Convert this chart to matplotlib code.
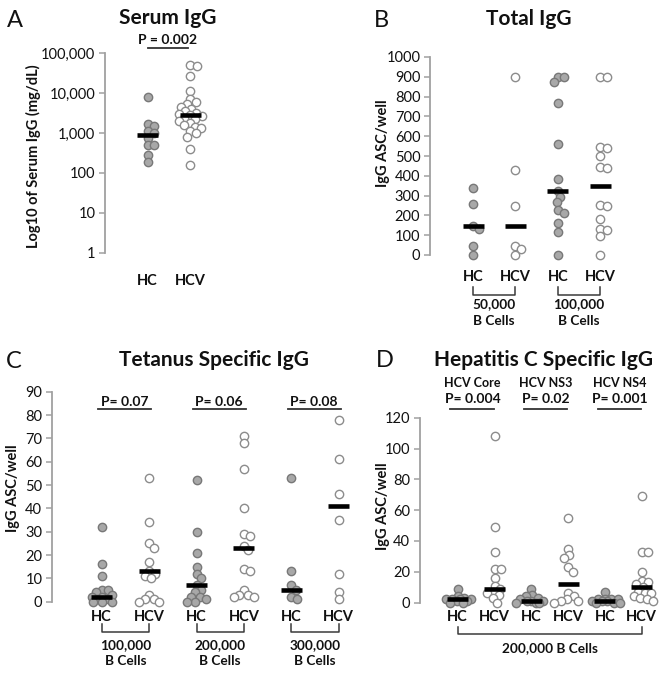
import numpy as np
import matplotlib
matplotlib.use("Agg")
import matplotlib.pyplot as plt
from matplotlib.transforms import Affine2D, blended_transform_factory

plt.rcParams['font.family'] = ['Lato', 'DejaVu Sans']

# ---- data ----
groups = ["HC", "HCV"]

serum_hc = [7800, 1700, 1500, 1100, 1000, 760, 500, 500, 280, 185]
serum_hcv = [50000, 48000, 26000, 11000, 7000, 5800, 5200, 4500, 4000, 3500,
             3200, 3000, 2800, 2600, 2400, 2200, 2000, 1800, 1600, 1450,
             1300, 1100, 1000, 800, 400, 155]
serum_med = [900, 2800]

tot_hc_50 = [340, 260, 145, 130, 47, 0]
tot_hcv_50 = [900, 428, 249, 47, 30, 0]
tot_hc_100 = [900, 900, 874, 768, 560, 382, 323, 294, 266, 227, 213, 160, 114, 0]
tot_hcv_100 = [900, 900, 543, 538, 500, 444, 439, 252, 249, 181, 131, 126, 97, 0]
tot_med = [146, 148, 323, 348]
tot_cells = ["50,000\nB Cells", "100,000\nB Cells"]

tet_hc_100 = [32, 16, 11, 5, 5, 4, 3, 2, 2, 1, 1, 0, 0, 0]
tet_hcv_100 = [53, 34, 25, 23, 17, 13, 12, 11, 10, 3, 1, 1, 0, 0]
tet_hc_200 = [52, 30, 21, 15, 12, 10, 7, 5, 4, 2, 2, 1, 0, 0]
tet_hcv_200 = [71, 68, 57, 40, 29, 28, 24, 22, 14, 13, 5, 3, 3, 2, 2]
tet_hc_300 = [53, 13, 7, 5, 2, 1]
tet_hcv_300 = [78, 61, 46, 35, 12, 4, 1]
tet_med = [2, 13, 7, 23, 5, 41]
tet_p = ["P= 0.07", "P= 0.06", "P= 0.08"]
tet_cells = ["100,000\nB Cells", "200,000\nB Cells", "300,000\nB Cells"]

hcv_hc_core = [9, 4, 3, 2, 2, 2, 2, 1, 1, 0, 0]
hcv_hcv_core = [108, 49, 33, 22, 22, 16, 11, 9, 7, 6, 5, 3, 0]
hcv_hc_ns3 = [9, 5, 4, 3, 2, 1, 1, 1, 0, 0, 0]
hcv_hcv_ns3 = [55, 35, 31, 29, 23, 20, 6, 4, 2, 1, 1, 0]
hcv_hc_ns4 = [7, 2, 2, 2, 2, 1, 1, 1, 0, 0, 0]
hcv_hcv_ns4 = [69, 33, 33, 20, 14, 13, 12, 10, 7, 6, 6, 4, 3, 2, 1]
hcv_med = [2.5, 9, 1, 12, 1, 10]
hcv_antigen = ["HCV Core", "HCV NS3", "HCV NS4"]
hcv_p = ["P= 0.004", "P= 0.02", "P= 0.001"]

# ---- style ----
HC_FACE, HC_EDGE = "#a8a8a8", "#787878"
HCV_FACE, HCV_EDGE = "#ffffff", "#8c8c8c"
AXIS_C = "#a0a0a0"
TXT = "#111111"

W, H = 663, 673
fig = plt.figure(figsize=(W / 100, H / 100), dpi=100)
# transform: x, y in pixels measured from the top-left corner
PX = Affine2D().scale(1.0 / W, -1.0 / H).translate(0, 1) + fig.transFigure


def ftext(x, y, s, **kw):
    kw.setdefault("color", TXT)
    fig.text(x, y, s, transform=PX, **kw)


def make_ax(box, first, step, ylim, log=False):
    left, right, top, bottom = box
    ax = fig.add_axes([left / W, 1 - bottom / H, (right - left) / W, (bottom - top) / H])
    ax.set_xlim((left - first) / step, (right - first) / step)
    if log:
        ax.set_yscale("log")
    ax.set_ylim(*ylim)
    for s in ["top", "right", "bottom"]:
        ax.spines[s].set_visible(False)
    ax.spines["left"].set_color(AXIS_C)
    ax.spines["left"].set_linewidth(1.3)
    ax.tick_params(axis="y", direction="out", length=4, width=1.1, color=AXIS_C,
                   labelsize=10.5, labelcolor=TXT, pad=3)
    ax.set_xticks([])
    ax.patch.set_visible(False)
    ax._box = box
    ax._step = step
    ax._log = log
    ax._ylim = ylim
    return ax


def ypix(ax, v):
    left, right, top, bottom = ax._box
    y0, y1 = ax._ylim
    if ax._log:
        f = (np.log10(v) - np.log10(y0)) / (np.log10(y1) - np.log10(y0))
    else:
        f = (v - y0) / (y1 - y0)
    return bottom - f * (bottom - top)


def swarm(ax, i, vals, hc, dmin=6.2, maxoff=15):
    # simple beeswarm in pixel space; points may overlap once the spread is capped
    vals = np.sort(np.asarray(vals, float))[::-1]
    ys = np.array([ypix(ax, v) for v in vals])
    placed = []
    cands = [0.0]
    for k in np.arange(0.5, maxoff + 0.01, 0.5):
        cands += [k, -k]
    for y in ys:
        best, bestd = 0.0, -1
        for c in cands:
            d = min([np.hypot(c - px, y - py) for px, py in placed] or [99])
            if d >= dmin:
                best = c
                break
            if d > bestd + 0.5:
                best, bestd = c, d
        placed.append((best, y))
    xs = i + np.array([p[0] for p in placed]) / ax._step
    ax.scatter(xs, vals, s=36, marker="o",
               facecolor=HC_FACE if hc else HCV_FACE,
               edgecolor=HC_EDGE if hc else HCV_EDGE,
               linewidth=1.0, zorder=3, clip_on=False)


def median_bar(ax, i, m):
    hw = 10.5 / ax._step
    ax.plot([i - hw, i + hw], [m, m], color="black", lw=3.3,
            solid_capstyle="butt", zorder=4, clip_on=False)


def p_line(ax, i0, i1, y, lw=1.3):
    tr = blended_transform_factory(ax.transData, PX)
    ax.plot([i0, i1], [y, y], color="#333333", lw=lw, transform=tr, clip_on=False)


def group_labels(ax, names, y):
    tr = blended_transform_factory(ax.transData, PX)
    for i, n in enumerate(names):
        ax.text(i, y, n, transform=tr, ha="center", va="center",
                fontsize=10.5, fontweight="bold", color=TXT)


def bracket(ax, i0, i1, ytop, ybot):
    tr = blended_transform_factory(ax.transData, PX)
    ax.plot([i0, i0, i1, i1], [ytop, ybot, ybot, ytop], color="#3a3a3a",
            lw=1.1, transform=tr, clip_on=False)


CELL_FS = 9.8

# ================= A: Serum IgG =================
axA = make_ax((105, 228, 53, 253), 147.5, 42.5, (1, 100000), log=True)
axA.set_yticks([1, 10, 100, 1000, 10000, 100000])
axA.set_yticklabels(["1", "10", "100", "1,000", "10,000", "100,000"])
axA.minorticks_off()
swarm(axA, 0, serum_hc, True)
swarm(axA, 1, serum_hcv, False)
for i, m in enumerate(serum_med):
    median_bar(axA, i, m)
group_labels(axA, groups, 281)
p_line(axA, 0.0, 0.95, 47.7)
ftext(168, 44.5, "P = 0.002", ha="center", va="baseline", fontsize=10, fontweight="bold")
ftext(33, 156, "Log10 of Serum IgG (mg/dL)", rotation=90, ha="center", va="center",
      fontsize=10.5, fontweight="bold")
ftext(168, 24, "Serum IgG", ha="center", va="baseline", fontsize=15, fontweight="bold")
ftext(7, 27, "A", ha="left", va="baseline", fontsize=17)

# ================= B: Total IgG =================
axB = make_ax((430, 640, 57, 255), 473, 42.4, (0, 1000))
axB.set_yticks(np.arange(0, 1001, 100))
swarm(axB, 0, tot_hc_50, True)
swarm(axB, 1, tot_hcv_50, False)
swarm(axB, 2, tot_hc_100, True)
swarm(axB, 3, tot_hcv_100, False)
for i, m in enumerate(tot_med):
    median_bar(axB, i, m)
group_labels(axB, groups * 2, 277)
trB = blended_transform_factory(axB.transData, PX)
for j, lab in enumerate(tot_cells):
    bracket(axB, 2 * j, 2 * j + 1, 287, 295)
    num, cells = lab.split("\n")
    axB.text(2 * j + 0.5, 304.5, num, transform=trB, ha="center", va="center",
             fontsize=CELL_FS, fontweight="bold", color=TXT)
    axB.text(2 * j + 0.5, 321, cells, transform=trB, ha="center", va="center",
             fontsize=CELL_FS, fontweight="bold", color=TXT)
ftext(383, 143, "IgG ASC/well", rotation=90, ha="center", va="center",
      fontsize=10.5, fontweight="bold")
ftext(529, 25, "Total IgG", ha="center", va="baseline", fontsize=15, fontweight="bold")
ftext(374, 27, "B", ha="left", va="baseline", fontsize=17)

# ================= C: Tetanus Specific IgG =================
axC = make_ax((52, 358, 391.7, 601.7), 101.7, 47.4, (0, 90))
axC.set_yticks(np.arange(0, 91, 10))
tet_sets = [tet_hc_100, tet_hcv_100, tet_hc_200, tet_hcv_200, tet_hc_300, tet_hcv_300]
for i, vals in enumerate(tet_sets):
    swarm(axC, i, vals, i % 2 == 0, maxoff=10)
for i, m in enumerate(tet_med):
    median_bar(axC, i, m)
group_labels(axC, groups * 3, 616.7)
trC = blended_transform_factory(axC.transData, PX)
for j, (p, lab) in enumerate(zip(tet_p, tet_cells)):
    p_line(axC, 2 * j - 0.08, 2 * j + 1.04, 409.3)
    axC.text(2 * j + 0.48, 406, p, transform=trC, ha="center", va="baseline",
             fontsize=10, fontweight="bold", color=TXT)
    bracket(axC, 2 * j, 2 * j + 1, 624, 632)
    num, cells = lab.split("\n")
    axC.text(2 * j + 0.5, 645, num, transform=trC, ha="center", va="center",
             fontsize=CELL_FS, fontweight="bold", color=TXT)
    axC.text(2 * j + 0.5, 661, cells, transform=trC, ha="center", va="center",
             fontsize=CELL_FS, fontweight="bold", color=TXT)
ftext(13.5, 488, "IgG ASC/well", rotation=90, ha="center", va="center",
      fontsize=10.5, fontweight="bold")
ftext(214, 366, "Tetanus Specific IgG", ha="center", va="baseline", fontsize=15,
      fontweight="bold")
ftext(6, 367.5, "C", ha="left", va="baseline", fontsize=17)

# ================= D: Hepatitis C Specific IgG =================
axD = make_ax((420, 660, 417.7, 602.5), 457.7, 36.8, (0, 120))
axD.set_yticks(np.arange(0, 121, 20))
hcv_sets = [hcv_hc_core, hcv_hcv_core, hcv_hc_ns3, hcv_hcv_ns3, hcv_hc_ns4, hcv_hcv_ns4]
for i, vals in enumerate(hcv_sets):
    swarm(axD, i, vals, i % 2 == 0, maxoff=15)
for i, m in enumerate(hcv_med):
    median_bar(axD, i, m)
group_labels(axD, groups * 3, 616.7)
trD = blended_transform_factory(axD.transData, PX)
for j, (ag, p) in enumerate(zip(hcv_antigen, hcv_p)):
    p_line(axD, 2 * j - 0.2, 2 * j + 0.98, 409)
    axD.text(2 * j + 0.4, 386.7, ag, transform=trD, ha="center", va="baseline",
             fontsize=9, fontweight="bold", color=TXT)
    axD.text(2 * j + 0.4, 403.3, p, transform=trD, ha="center", va="baseline",
             fontsize=10, fontweight="bold", color=TXT)
bracket(axD, 0, 5, 627, 634)
axD.text(2.5, 648, "200,000 B Cells", transform=trD, ha="center", va="center",
         fontsize=CELL_FS, fontweight="bold", color=TXT)
ftext(383, 506, "IgG ASC/well", rotation=90, ha="center", va="center",
      fontsize=10.5, fontweight="bold")
ftext(544, 366, "Hepatitis C Specific IgG", ha="center", va="baseline", fontsize=15,
      fontweight="bold")
ftext(376, 367, "D", ha="left", va="baseline", fontsize=17)

fig.savefig("out.png", dpi=100, facecolor="white")
